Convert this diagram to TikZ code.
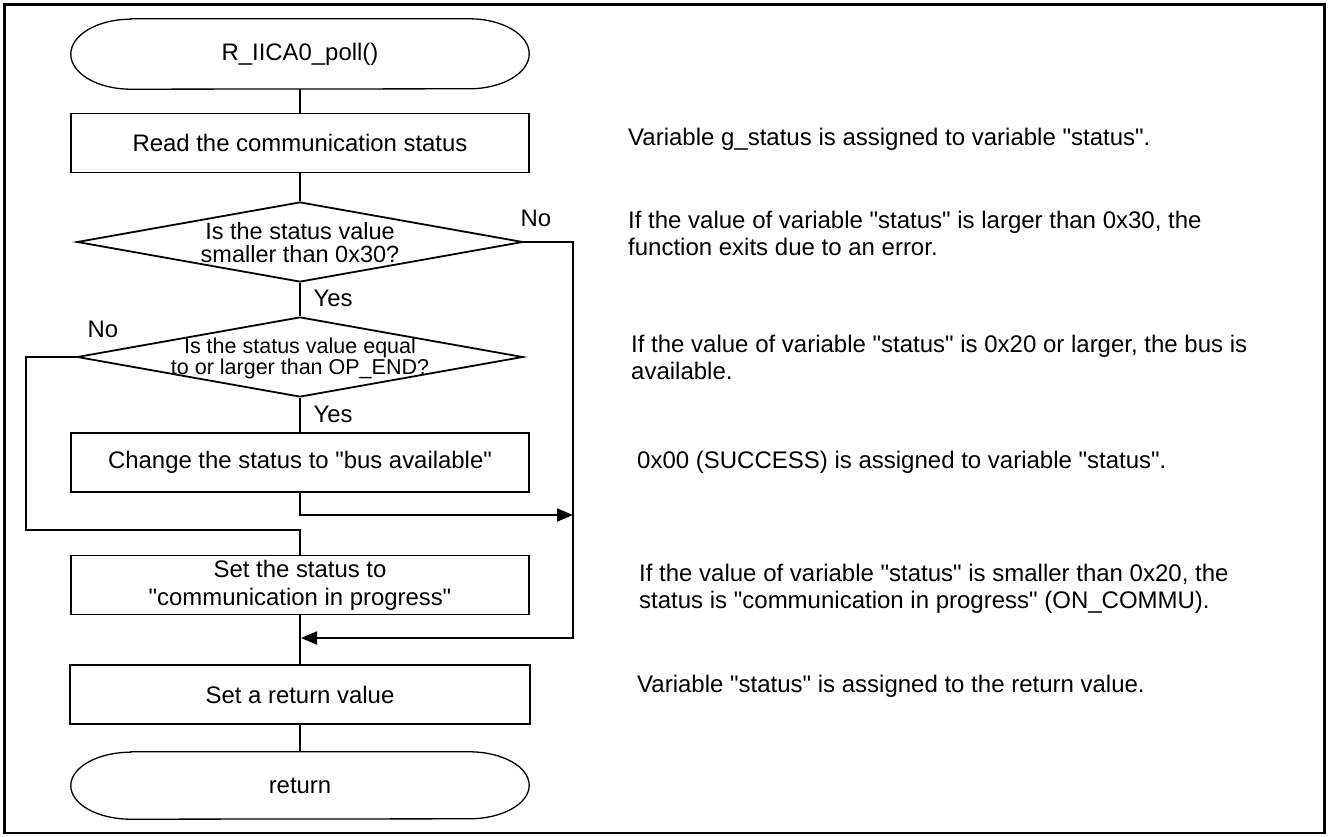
\documentclass[tikz,border=0pt]{standalone}
\usepackage{fontspec}
\setmainfont{Liberation Sans}[Ligatures=TeXOff]
\usetikzlibrary{arrows.meta,shapes.geometric}
\newcommand{\drawterm}[2]{\draw[termline] ([xshift=60pt]#1.north west) -- ([xshift=-60pt]#1.north east) arc[start angle=90,end angle=-90,x radius=60pt,y radius=#2] -- ([xshift=60pt]#1.south west) arc[start angle=270,end angle=90,x radius=60pt,y radius=#2] -- cycle;}
\begin{document}
\begin{tikzpicture}[x=1pt,y=-1pt,
  flow/.style={line width=1.8pt},
  procbox/.style={draw,line width=1.8pt,minimum width=458pt,minimum height=59pt,inner sep=0pt,align=center,font=\fontsize{23.9}{28}\selectfont},
  termnode/.style={minimum width=458pt,minimum height=70pt,inner sep=0pt,font=\fontsize{23.9}{28}\selectfont},
  termline/.style={line width=1.3pt},
  decision/.style={draw,diamond,line width=1.8pt,minimum width=446pt,minimum height=80pt,inner sep=0pt},
  dtext/.style={align=center,inner sep=0pt},
  lbl/.style={font=\fontsize{23.9}{28}\selectfont,inner sep=0pt},
  note/.style={anchor=north west,align=left,inner sep=0pt,font=\fontsize{24}{26.7}\selectfont},
  arr/.style={-{Triangle[length=16pt,width=13pt]}}
]
\useasboundingbox (0,0) rectangle (1328,837);
\draw[line width=2.5pt] (4.5,4.5) rectangle (1324.5,833);

% flowchart nodes
\node[termnode] (t1) at (300,54) {R\_IICA0\_poll()};
\drawterm{t1}{35pt}
\node[procbox] (b1) at (300,143) {Read the communication status};
\node[decision] (d1) at (300,242) {};
\node[dtext,font=\fontsize{23.5}{23}\selectfont] (d1t) at (300,243) {Is the status value\\smaller than 0x30?};
\node[decision] (d2) at (300,357) {};
\node[dtext,font=\fontsize{21.5}{21}\selectfont] (d2t) at (300,358) {Is the status value equal\\to or larger than OP\_END?};
\node[procbox] (b3) at (300,462.5) {Change the status to "bus available"};
\node[procbox] (b4) at (300,585) {Set the status to\\"communication in progress"};
\node[procbox,minimum width=460pt] (b5) at (300,694.5) {Set a return value};
\node[termnode,minimum height=67pt] (t2) at (300,785.5) {return};
\drawterm{t2}{33.5pt}

% routing points
\coordinate (j1) at (300,515);
\coordinate (r3) at (573,515);
\coordinate (r1) at (573,242);
\coordinate (r2) at (573,638);
\coordinate (j3) at (301,638);
\coordinate (l1) at (26,357);
\coordinate (l2) at (26,530);
\coordinate (j2) at (300,530);

% connectors
\draw[flow] (t1.south) -- (b1.north);
\draw[flow] (b1.south) -- (d1.north);
\draw[flow] (d1.south) -- (d2.north);
\draw[flow] (d2.south) -- (b3.north);
\draw[flow,arr] (b3.south) -- (j1) -- (r3);
\draw[flow,arr] (d1.east) -- (r1) -- (r2) -- (j3);
\draw[flow] (d2.west) -- (l1) -- (l2) -- (j2) -- (b4.north);
\draw[flow] (b4.south) -- (b5.north);
\draw[flow] (b5.south) -- (t2.north);

% branch labels
\node[lbl] (no1) at (536,218) {No};
\node[lbl] (yes1) at (333,298) {Yes};
\node[lbl] (no2) at (103,329) {No};
\node[lbl] (yes2) at (333,414) {Yes};

% notes
\node[note] (n1) at (628,128) {Variable g\_status is assigned to variable "status".};
\node[note] (n2) at (628,211) {If the value of variable "status" is larger than 0x30, the\\function exits due to an error.};
\node[note] (n3) at (631,335) {If the value of variable "status" is 0x20 or larger, the bus is\\available.};
\node[note] (n4) at (637,451) {0x00 (SUCCESS) is assigned to variable "status".};
\node[note] (n5) at (639,564) {If the value of variable "status" is smaller than 0x20, the\\status is "communication in progress" (ON\_COMMU).};
\node[note] (n6) at (637,675) {Variable "status" is assigned to the return value.};
\end{tikzpicture}
\end{document}
